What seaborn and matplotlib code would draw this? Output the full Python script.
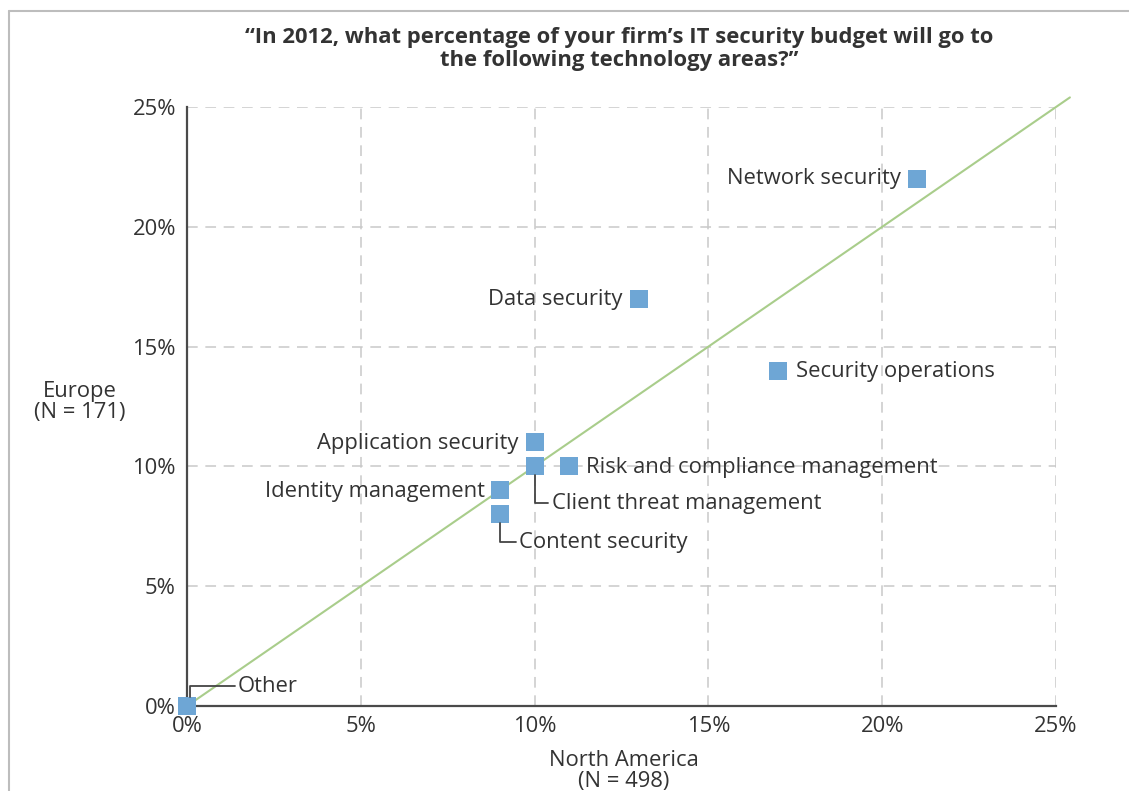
import matplotlib
matplotlib.use("Agg")
import matplotlib.pyplot as plt
import matplotlib.transforms as mtransforms
from matplotlib.lines import Line2D
import seaborn as sns
import pandas as pd

# Share of IT security budget by technology area (percent)
areas = ["Network security", "Data security", "Security operations",
         "Application security", "Client threat management",
         "Risk and compliance management", "Identity management",
         "Content security", "Other"]
north_america = [21, 13, 17, 10, 10, 11, 9, 9, 0]
europe = [22, 17, 14, 11, 10, 10, 9, 8, 0]

tick_values = [0, 5, 10, 15, 20, 25]
tick_labels = ["0%", "5%", "10%", "15%", "20%", "25%"]

title_text = ("\u201cIn 2012, what percentage of your firm\u2019s IT security budget will go to\n"
              "the following technology areas?\u201d")

df = pd.DataFrame({"area": areas, "na": north_america, "eu": europe})

sns.set_theme(style="white")
plt.rcParams["font.family"] = ["Open Sans", "DejaVu Sans"]

TEXT = "#333333"
BLUE = "#6ea6d5"
GREEN = "#a9cd8b"
GRID = "#c9c9c9"
FS = 15.8

fig = plt.figure(figsize=(11.29, 7.91), dpi=100)
ax = fig.add_axes([187 / 1129, 1 - 706 / 791, (1056 - 187) / 1129, (706 - 107) / 791])

ax.set_xlim(0, 25)
ax.set_ylim(0, 25)

# dashed grid
for v in tick_values[1:]:
    ax.axhline(v, color=GRID, lw=1.1, ls=(0, (7, 5)), zorder=0)
    ax.axvline(v, color=GRID, lw=1.1, ls=(0, (7, 5)), zorder=0)

# parity line (equal share in both regions)
ax.plot([0, 25.4], [0, 25.4], color=GREEN, lw=1.5, clip_on=False, zorder=1)

sns.scatterplot(data=df, x="na", y="eu", marker="s", s=170, color=BLUE,
                linewidth=0, ax=ax, clip_on=False, zorder=3)

for sp in ["top", "right"]:
    ax.spines[sp].set_visible(False)
for sp in ["left", "bottom"]:
    ax.spines[sp].set_color("#4a4a4a")
    ax.spines[sp].set_linewidth(1.6)

ax.set_xticks(tick_values)
ax.set_xticklabels(tick_labels)
ax.set_yticks(tick_values)
ax.set_yticklabels(tick_labels)
ax.tick_params(axis="both", which="major", direction="out", length=5, width=1.1,
               color=GRID, labelcolor=TEXT, labelsize=FS, pad=2)
ax.tick_params(axis="y", pad=3)
ax.set_xlabel("")
ax.set_ylabel("")

# point labels: (text offset in pixels, horizontal alignment, elbow leader?)
label_style = {
    "Network security": ((-16, 0), "right", False),
    "Data security": ((-17, -1), "right", False),
    "Security operations": ((18, -1), "left", False),
    "Application security": ((-16, -1), "right", False),
    "Client threat management": ((17, -37), "left", True),
    "Risk and compliance management": ((17, -1), "left", False),
    "Identity management": ((-15, -1), "right", False),
    "Content security": ((19, -28), "left", True),
    "Other": ((48, 20), "left", True),
}

for name, x, y in zip(areas, north_america, europe):
    offset, ha, leader = label_style[name]
    if leader:
        shift = 3 if name == "Other" else 0
        xyc = ax.transData + mtransforms.Affine2D().translate(shift, 0)
        ax.annotate(name, xy=(x, y), xycoords=xyc,
                    xytext=offset, textcoords="offset pixels",
                    ha=ha, va="center", fontsize=FS, color=TEXT,
                    arrowprops=dict(arrowstyle="-", color="#444444", lw=1.3,
                                    connectionstyle="angle,angleA=0,angleB=90,rad=0",
                                    relpos=(0, 0.5), shrinkA=0, shrinkB=6.5))
    else:
        ax.annotate(name, xy=(x, y), xytext=offset, textcoords="offset pixels",
                    ha=ha, va="center", fontsize=FS, color=TEXT)

# axis titles
fig.text(80 / 1129, 1 - 402 / 791, "Europe\n(N = 171)", ha="center", va="center",
         fontsize=FS, color=TEXT, linespacing=1.05)
fig.text(624 / 1129, 1 - 771 / 791, "North America\n(N = 498)", ha="center", va="center",
         fontsize=FS, color=TEXT, linespacing=1.05)

fig.text(619 / 1129, 1 - 49 / 791, title_text, ha="center", va="center",
         fontsize=15.8, fontweight="bold", color=TEXT, linespacing=1.12)

# page frame (top and left edges)
fig.add_artist(Line2D([9 / 1129, 1.0], [1 - 11 / 791, 1 - 11 / 791],
                      transform=fig.transFigure, color="#bdbdbd", lw=1.5))
fig.add_artist(Line2D([9 / 1129, 9 / 1129], [0, 1 - 11 / 791],
                      transform=fig.transFigure, color="#bdbdbd", lw=1.5))

fig.savefig("out.png", dpi=100)
